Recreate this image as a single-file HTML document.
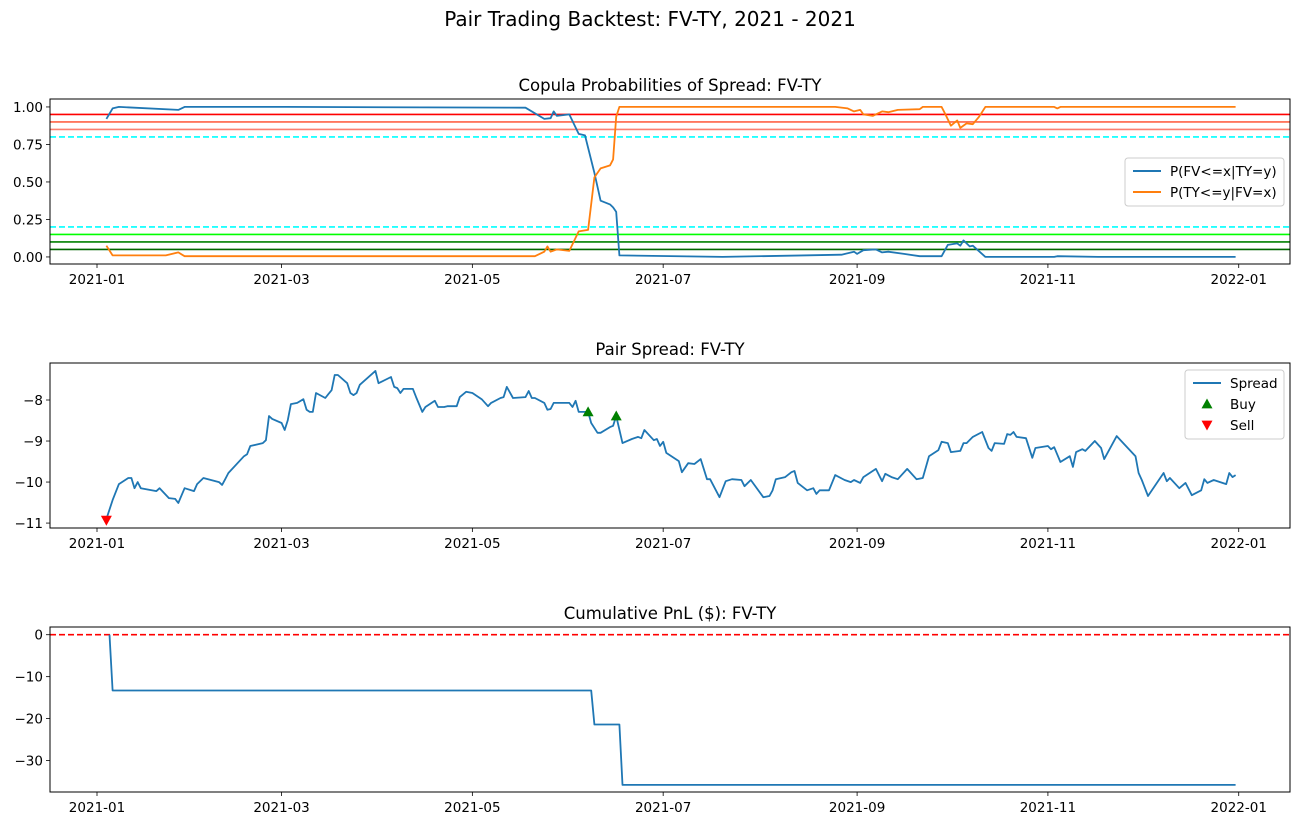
<!DOCTYPE html>
<html><head><meta charset="utf-8"><style>
html,body{margin:0;padding:0;background:#fff}
svg{display:block;font-family:"DejaVu Sans","Liberation Sans",sans-serif}
</style></head><body>
<svg id="fig" width="1300" height="826" viewBox="0 0 1300 826" xmlns="http://www.w3.org/2000/svg">
<rect width="1300" height="826" fill="#fff"/>
<text x="650" y="26" text-anchor="middle" font-size="20" fill="#000">Pair Trading Backtest: FV-TY, 2021 - 2021</text>
</svg>
<script>
const tickDays = [0,59,120,181,243,304,365];
const tickLabels = ["2021-01","2021-03","2021-05","2021-07","2021-09","2021-11","2022-01"];

const probTicks = [0,0.25,0.5,0.75,1.0];
const probTickLabels = ["0.00","0.25","0.50","0.75","1.00"];
const p1Days = [3,5,7,26,28,60,137,143,145,146,147,151,154,156,159,161,164,165,166,167,200,238,242,243,245,249,251,253,258,263,270,272,275,276,277,279,280,284,306,307,320,364];
const p1Vals = [0.92,0.99,1.0,0.98,1.0,1.0,0.995,0.92,0.925,0.97,0.94,0.95,0.82,0.81,0.56,0.375,0.35,0.33,0.30,0.01,0.0,0.015,0.035,0.02,0.045,0.05,0.03,0.035,0.02,0.005,0.005,0.08,0.09,0.075,0.11,0.07,0.075,0.0,0.0,0.005,0.0,0.0];
const p2Days = [3,5,22,26,28,140,143,144,145,147,151,154,157,159,161,164,165,166,167,236,240,242,244,245,248,251,253,256,263,264,270,271,273,275,276,278,280,282,284,306,307,308,364];
const p2Vals = [0.075,0.01,0.01,0.03,0.005,0.005,0.035,0.07,0.035,0.05,0.04,0.17,0.18,0.53,0.59,0.61,0.65,0.935,1.0,1.0,0.99,0.97,0.98,0.95,0.94,0.97,0.965,0.98,0.985,1.0,1.0,0.96,0.875,0.91,0.86,0.89,0.885,0.935,1.0,1.0,0.99,1.0,1.0];
const thresholds = [0.95,0.90,0.85,0.80,0.20,0.15,0.10,0.05];
const thresholdColors = ["#ff0000","#ff6347","#fa8072","#00ffff","#00ffff","#00ff00","#008000","#006400"];

const spreadTicks = [-8,-9,-10,-11];
const spreadDays = [3,5,7,10,11,12,13,14,19,20,23,25,26,28,31,32,34,39,40,41,42,47,48,49,53,54,55,56,59,60,61,62,64,66,67,68,69,70,73,74,75,76,77,80,81,82,83,84,89,90,94,95,96,97,98,101,102,104,105,108,109,111,112,115,116,118,120,123,125,126,129,130,131,133,137,138,139,140,143,144,145,146,151,152,153,154,157,158,160,161,164,165,166,168,171,173,174,175,178,179,180,181,182,186,187,189,191,193,195,196,199,201,203,206,207,209,213,215,216,217,220,222,223,224,227,229,230,231,234,236,239,241,242,244,245,249,251,252,254,256,259,262,264,266,269,270,272,273,276,277,278,280,283,285,286,287,290,291,292,293,294,297,299,300,304,305,306,308,311,312,313,315,316,319,321,322,326,332,333,334,336,339,341,342,343,346,348,350,353,354,355,357,361,362,363,364];
const spreadVals = [-10.9,-10.44,-10.05,-9.90,-9.90,-10.15,-10.00,-10.15,-10.22,-10.15,-10.39,-10.41,-10.51,-10.15,-10.22,-10.05,-9.90,-10.00,-10.07,-9.93,-9.78,-9.37,-9.32,-9.12,-9.05,-8.98,-8.39,-8.46,-8.56,-8.73,-8.49,-8.10,-8.07,-7.98,-8.24,-8.29,-8.29,-7.83,-7.95,-7.85,-7.76,-7.39,-7.39,-7.59,-7.83,-7.88,-7.83,-7.63,-7.29,-7.59,-7.44,-7.68,-7.71,-7.83,-7.73,-7.73,-7.93,-8.29,-8.17,-8.02,-8.17,-8.17,-8.15,-8.15,-7.93,-7.80,-7.83,-7.98,-8.15,-8.07,-7.95,-7.93,-7.68,-7.95,-7.93,-7.78,-7.95,-7.95,-8.07,-8.24,-8.22,-8.07,-8.07,-8.17,-8.02,-8.29,-8.29,-8.56,-8.80,-8.80,-8.66,-8.63,-8.39,-9.05,-8.95,-8.90,-8.93,-8.73,-8.98,-8.95,-9.12,-9.02,-9.29,-9.49,-9.76,-9.54,-9.56,-9.44,-9.93,-9.93,-10.37,-9.98,-9.93,-9.95,-10.10,-9.95,-10.37,-10.34,-10.20,-9.93,-9.88,-9.76,-9.73,-10.02,-10.20,-10.15,-10.29,-10.20,-10.20,-9.83,-9.95,-10.00,-9.95,-10.02,-9.88,-9.68,-9.98,-9.80,-9.88,-9.93,-9.68,-9.93,-9.90,-9.37,-9.22,-9.02,-9.05,-9.27,-9.24,-9.05,-9.05,-8.90,-8.78,-9.17,-9.24,-9.05,-9.07,-8.83,-8.85,-8.78,-8.90,-8.93,-9.41,-9.17,-9.12,-9.20,-9.15,-9.51,-9.37,-9.63,-9.27,-9.20,-9.24,-9.00,-9.17,-9.44,-8.88,-9.37,-9.78,-9.95,-10.34,-10.00,-9.78,-9.98,-9.90,-10.15,-10.02,-10.32,-10.20,-9.93,-10.02,-9.95,-10.05,-9.78,-9.88,-9.83];
const buyDays = [157,166];
const buyVals = [-8.29,-8.39];
const sellDays = [3];
const sellVals = [-10.93];

const pnlTicks = [0,-10,-20,-30];
const pnlDays = [4,5,158,159,167,168,364];
const pnlVals = [0,-13.3,-13.3,-21.4,-21.4,-35.8,-35.8];

const NS = "http://www.w3.org/2000/svg";
const svg = document.getElementById("fig");
function mk(tag, attrs, parent) {
  const e = document.createElementNS(NS, tag);
  for (const k in attrs) e.setAttribute(k, attrs[k]);
  (parent || svg).appendChild(e);
  return e;
}
const X0 = 50, X1 = 1290;
function xs(d) { return 97 + d * 3.128; }

function makeAxes(name, top, bottom, vmin, vmax, title, ticks, labels) {
  const g = mk("g", {});
  
  
  const ys = v => bottom - (v - vmin) / (vmax - vmin) * (bottom - top);
  const t = mk("text", {x: 670, y: top - 8, "text-anchor": "middle", "font-size": "16.5", fill: "#000"}, g);
  t.textContent = title;
  
  
  ticks.forEach((v, i) => {
    const y = ys(v);
    mk("line", {x1: X0 - 4, x2: X0, y1: y, y2: y, stroke: "#000", "stroke-width": 0.8}, g);
    const tl = mk("text", {x: X0 - 7, y: y + 5, "text-anchor": "end", "font-size": "13.5", fill: "#000"}, g);
    tl.textContent = labels ? labels[i] : (v < 0 ? "\u2212" + Math.abs(v) : String(v));
    
    
  });
  tickDays.forEach((d, i) => {
    const x = xs(d);
    mk("line", {x1: x, x2: x, y1: bottom, y2: bottom + 4, stroke: "#000", "stroke-width": 0.8}, g);
    const tl = mk("text", {x: x, y: bottom + 20, "text-anchor": "middle", "font-size": "13.5", fill: "#000"}, g);
    tl.textContent = tickLabels[i];
    
    
  });
  const plot = mk("g", {}, g);
  
  
  return {g, plot, ys, top, bottom};
}
function frame(ax) {
  const r = mk("rect", {x: X0, y: ax.top, width: X1 - X0, height: ax.bottom - ax.top, fill: "none", stroke: "#000", "stroke-width": 1}, ax.g);
  
  
}
function line(ax, days, vals, color, name, dash) {
  const pts = days.map((d, i) => xs(d).toFixed(1) + "," + ax.ys(vals[i]).toFixed(1)).join(" ");
  const p = mk("polyline", {points: pts, fill: "none", stroke: color, "stroke-width": 1.8, "stroke-linejoin": "round"}, ax.plot);
  if (dash) p.setAttribute("stroke-dasharray", dash);
  
  
}
function hline(ax, v, color, name, dash) {
  const y = ax.ys(v);
  const l = mk("line", {x1: X0, x2: X1, y1: y, y2: y, stroke: color, "stroke-width": 1.6}, ax.plot);
  if (dash) l.setAttribute("stroke-dasharray", dash);
  
  
}
function tri(parent, cx, cy, up, color, name) {
  const s = 5.5;
  const pts = up ? `${cx},${cy - s} ${cx - s},${cy + s * 0.8} ${cx + s},${cy + s * 0.8}` : `${cx},${cy + s} ${cx - s},${cy - s * 0.8} ${cx + s},${cy - s * 0.8}`;
  const p = mk("polygon", {points: pts, fill: color}, parent);
  
  
}
function legend(x, y, w, entries) {
  const g = mk("g", {});
  
  
  mk("rect", {x, y, width: w, height: entries.length * 21 + 6, rx: 3, fill: "#fff", "fill-opacity": 0.8, stroke: "#ccc"}, g);
  entries.forEach((e, i) => {
    const cy = y + 13 + i * 21;
    const eg = mk("g", {}, g);
    
    
    if (e.type === "line") mk("line", {x1: x + 8, x2: x + 36, y1: cy, y2: cy, stroke: e.color, "stroke-width": 2}, eg);
    else tri(eg, x + 22, cy, e.type === "up", e.color, 'legend-marker');
    const t = mk("text", {x: x + 45, y: cy + 5, "font-size": "13.5", fill: "#000"}, eg);
    t.textContent = e.label;
  });
}

// Panel 1
const a1 = makeAxes("copula-probabilities-axes", 99, 264, -0.047, 1.053, "Copula Probabilities of Spread: FV-TY", probTicks, probTickLabels);
thresholds.forEach((v, i) => hline(a1, v, thresholdColors[i], 'threshold-line', (v === 0.8 || v === 0.2) ? "6,3" : null));
line(a1, p1Days, p1Vals, "#1f77b4", "p-fv-given-ty-line");
line(a1, p2Days, p2Vals, "#ff7f0e", "p-ty-given-fv-line");
frame(a1);
legend(1125, 158, 159, [{type: "line", color: "#1f77b4", label: "P(FV<=x|TY=y)"}, {type: "line", color: "#ff7f0e", label: "P(TY<=y|FV=x)"}]);

// Panel 2
const a2 = makeAxes("pair-spread-axes", 363, 528, -11.12, -7.098, "Pair Spread: FV-TY", spreadTicks);
line(a2, spreadDays, spreadVals, "#1f77b4", "spread-line");
buyDays.forEach((d, i) => tri(a2.plot, xs(d), a2.ys(buyVals[i]), true, "#008000", 'buy-marker'));
sellDays.forEach((d, i) => tri(a2.plot, xs(d), a2.ys(sellVals[i]), false, "#ff0000", 'sell-marker'));
frame(a2);
legend(1185, 370, 99, [{type: "line", color: "#1f77b4", label: "Spread"}, {type: "up", color: "#008000", label: "Buy"}, {type: "down", color: "#ff0000", label: "Sell"}]);

// Panel 3
const a3 = makeAxes("cumulative-pnl-axes", 627, 792, -37.5, 1.84, "Cumulative PnL ($): FV-TY", pnlTicks);
hline(a3, 0, "#ff0000", "zero-line", "6,3");
line(a3, pnlDays, pnlVals, "#1f77b4", "pnl-line");
frame(a3);
</script>
</body></html>
